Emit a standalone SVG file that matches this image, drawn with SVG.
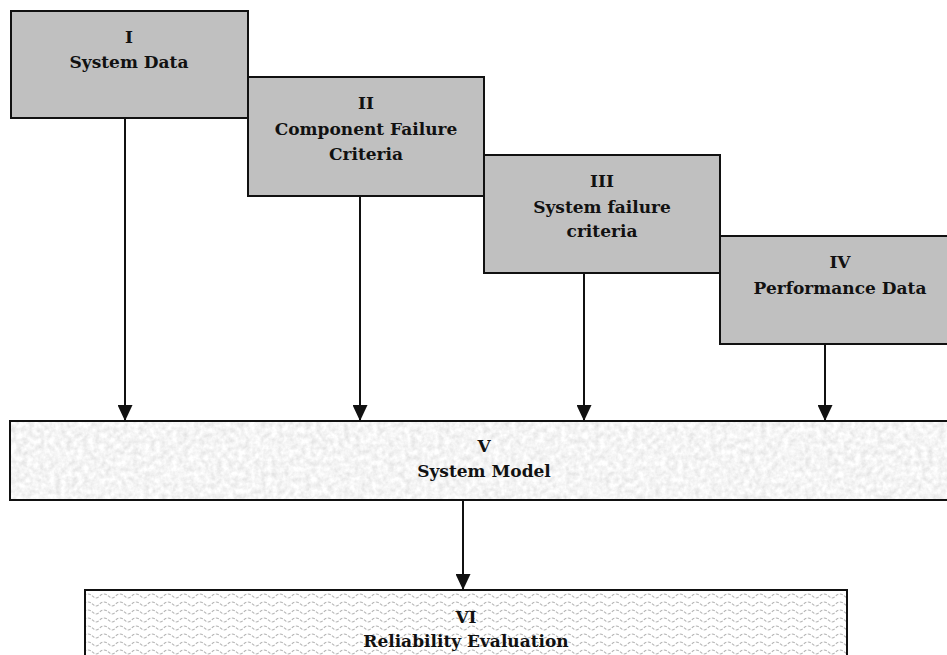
<svg xmlns="http://www.w3.org/2000/svg" width="947" height="655" viewBox="0 0 947 655">
<defs>
<style>
.box{stroke:#111;stroke-width:2}
.gray{fill:#c0c0c0}
.t{font-family:"DejaVu Serif","Liberation Serif",serif;font-weight:bold;font-size:17px;fill:#111;text-anchor:middle}
.conn{stroke:#111;stroke-width:2;fill:none;marker-end:url(#arr)}
</style>
<marker id="arr" markerUnits="userSpaceOnUse" markerWidth="16" markerHeight="15" refX="16" refY="7.5" orient="auto">
<path d="M0,0 L16,7.5 L0,15 z" fill="#111"/>
</marker>
<filter id="noise" filterUnits="userSpaceOnUse" x="10" y="421" width="940" height="79">
<feTurbulence type="fractalNoise" baseFrequency="0.18" numOctaves="3" seed="4"/>
<feColorMatrix type="matrix" values="0.38 0 0 0 0.72  0.38 0 0 0 0.72  0.38 0 0 0 0.72  0 0 0 0 1"/>
</filter>
<pattern id="wave" patternUnits="userSpaceOnUse" x="0" y="0" width="16" height="8">
<rect width="16" height="8" fill="#fff"/>
<path d="M0,6 C3,6 4,2 8,2 C12,2 13,6 16,6" fill="none" stroke="#b4b4b4" stroke-width="1.1" stroke-dasharray="3 1.5"/>
</pattern>
</defs>

<g id="conns">
<line class="conn" x1="125" y1="118" x2="125" y2="421"/>
<line class="conn" x1="360" y1="196" x2="360" y2="421"/>
<line class="conn" x1="584" y1="273" x2="584" y2="421"/>
<line class="conn" x1="825" y1="344" x2="825" y2="421"/>
<line class="conn" x1="463" y1="500" x2="463" y2="590"/>
</g>

<g id="n1">
<rect class="box gray" x="11" y="11" width="237" height="107"/>
<text class="t" x="129" y="43">I</text>
<text class="t" x="129" y="68">System Data</text>
</g>
<g id="n2">
<rect class="box gray" x="248" y="77" width="236" height="119"/>
<text class="t" x="366" y="109">II</text>
<text class="t" x="366" y="135">Component Failure</text>
<text class="t" x="366" y="160">Criteria</text>
</g>
<g id="n3">
<rect class="box gray" x="484" y="155" width="236" height="118"/>
<text class="t" x="602" y="187">III</text>
<text class="t" x="602" y="213">System failure</text>
<text class="t" x="602" y="237">criteria</text>
</g>
<g id="n4">
<rect class="box gray" x="720" y="236" width="240" height="108"/>
<text class="t" x="840" y="268">IV</text>
<text class="t" x="840" y="294">Performance Data</text>
</g>
<g id="n5">
<rect x="10" y="421" width="940" height="79" fill="#ececec" filter="url(#noise)"/>
<rect class="box" x="10" y="421" width="950" height="79" fill="none"/>
<text class="t" x="484" y="452">V</text>
<text class="t" x="484" y="477">System Model</text>
</g>
<g id="n6">
<rect class="box" x="85" y="590" width="762" height="80" fill="url(#wave)"/>
<text class="t" x="466" y="623">VI</text>
<text class="t" x="466" y="647">Reliability Evaluation</text>
</g>
</svg>
